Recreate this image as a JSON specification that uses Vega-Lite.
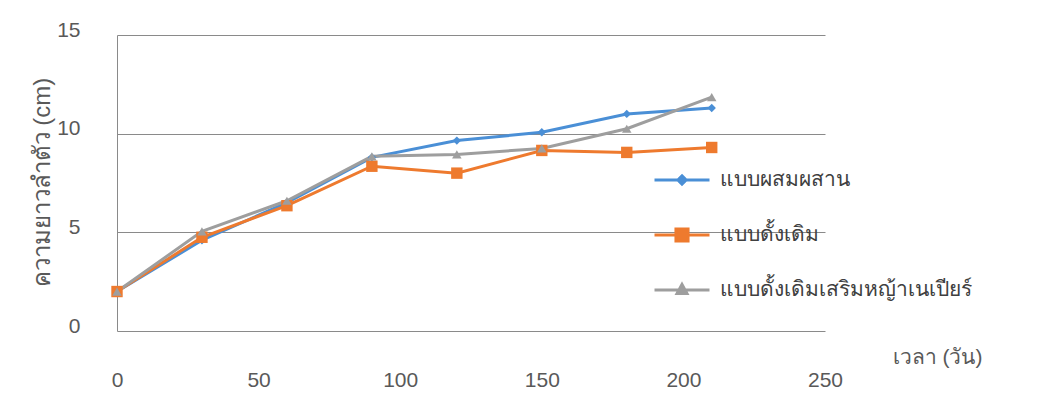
{
  "$schema": "https://vega.github.io/schema/vega-lite/v6.json",
  "width": 708,
  "height": 296,
  "autosize": {"type": "none"},
  "padding": {"left": 117, "top": 35, "right": 218, "bottom": 74},
  "background": "white",
  "config": {
    "view": {"stroke": null},
    "font": "Liberation Sans",
    "axis": {"labelColor": "#595959", "titleColor": "#595959", "labelFontSize": 21, "titleFontSize": 21, "titleFontWeight": "normal", "labelFont": "Liberation Sans", "titleFont": "Liberation Sans"}
  },
  "data": {
    "values": [
      {"day": 0, "len": 2.0, "series": "แบบผสมผสาน"},
      {"day": 30, "len": 4.6, "series": "แบบผสมผสาน"},
      {"day": 60, "len": 6.5, "series": "แบบผสมผสาน"},
      {"day": 90, "len": 8.8, "series": "แบบผสมผสาน"},
      {"day": 120, "len": 9.65, "series": "แบบผสมผสาน"},
      {"day": 150, "len": 10.07, "series": "แบบผสมผสาน"},
      {"day": 180, "len": 11.0, "series": "แบบผสมผสาน"},
      {"day": 210, "len": 11.3, "series": "แบบผสมผสาน"},
      {"day": 0, "len": 2.0, "series": "แบบดั้งเดิม"},
      {"day": 30, "len": 4.75, "series": "แบบดั้งเดิม"},
      {"day": 60, "len": 6.35, "series": "แบบดั้งเดิม"},
      {"day": 90, "len": 8.35, "series": "แบบดั้งเดิม"},
      {"day": 120, "len": 8.0, "series": "แบบดั้งเดิม"},
      {"day": 150, "len": 9.15, "series": "แบบดั้งเดิม"},
      {"day": 180, "len": 9.05, "series": "แบบดั้งเดิม"},
      {"day": 210, "len": 9.3, "series": "แบบดั้งเดิม"},
      {"day": 0, "len": 2.0, "series": "แบบดั้งเดิมเสริมหญ้าเนเปียร์"},
      {"day": 30, "len": 5.05, "series": "แบบดั้งเดิมเสริมหญ้าเนเปียร์"},
      {"day": 60, "len": 6.6, "series": "แบบดั้งเดิมเสริมหญ้าเนเปียร์"},
      {"day": 90, "len": 8.85, "series": "แบบดั้งเดิมเสริมหญ้าเนเปียร์"},
      {"day": 120, "len": 8.95, "series": "แบบดั้งเดิมเสริมหญ้าเนเปียร์"},
      {"day": 150, "len": 9.25, "series": "แบบดั้งเดิมเสริมหญ้าเนเปียร์"},
      {"day": 180, "len": 10.25, "series": "แบบดั้งเดิมเสริมหญ้าเนเปียร์"},
      {"day": 210, "len": 11.85, "series": "แบบดั้งเดิมเสริมหญ้าเนเปียร์"}
    ]
  },
  "encoding": {
    "x": {
      "field": "day", "type": "quantitative",
      "scale": {"domain": [0, 250], "nice": false},
      "axis": {
        "values": [0, 50, 100, 150, 200, 250],
        "grid": false, "domain": false, "ticks": false,
        "labelPadding": 38, "labelBaseline": "top", "labelFlush": false,
        "title": "เวลา (วัน)",
        "titleX": 820, "titleY": 26, "titleAlign": "center", "titleBaseline": "middle", "titleAnchor": null
      }
    },
    "y": {
      "field": "len", "type": "quantitative",
      "scale": {"domain": [0, 15], "nice": false},
      "axis": {
        "values": [0, 5, 10, 15],
        "grid": true, "gridColor": "#8a8a8a", "gridWidth": 1,
        "domain": true, "domainColor": "#8a8a8a", "ticks": false,
        "labelPadding": 37, "labelOffset": -5,
        "title": "ความยาวลำตัว (cm)", "titleFontSize": 24,
        "titleAngle": -90, "titleX": -75, "titleY": 147, "titleAlign": "center", "titleBaseline": "middle", "titleAnchor": null
      }
    },
    "color": {
      "field": "series", "type": "nominal",
      "scale": {
        "domain": ["แบบผสมผสาน", "แบบดั้งเดิม", "แบบดั้งเดิมเสริมหญ้าเนเปียร์"],
        "range": ["#4a8fd6", "#ee7a2e", "#9e9e9e"]
      }
    }
  },
  "layer": [
    {
      "mark": {"type": "line", "strokeWidth": 3},
      "encoding": {
        "color": {
          "field": "series", "type": "nominal",
          "legend": {
            "orient": "none", "legendX": 536, "legendY": 117.5,
            "title": null, "padding": 0, "rowPadding": 0, "clipHeight": 55,
            "symbolSize": 3025, "symbolStrokeWidth": 3,
            "labelFontSize": 21, "labelColor": "#404040", "labelOffset": 9, "labelLimit": 400,
            "encode": {
              "symbols": {
                "update": {
                  "shape": {"signal": "datum.value === 'แบบผสมผสาน' ? 'M-1,0H1M0,-0.15L0.15,0L0,0.15L-0.15,0Z' : datum.value === 'แบบดั้งเดิม' ? 'M-1,0H1M-0.22,-0.22H0.22V0.22H-0.22Z' : 'M-1,0H1M0,-0.2L0.18,0.13H-0.18Z'"},
                  "fill": {"scale": "color", "field": "value"},
                  "stroke": {"scale": "color", "field": "value"},
                  "strokeWidth": {"value": 3}
                }
              }
            }
          }
        }
      }
    },
    {
      "transform": [{"filter": "datum.series === 'แบบผสมผสาน'"}],
      "mark": {"type": "point", "filled": true, "opacity": 1, "shape": "diamond", "size": 70}
    },
    {
      "transform": [{"filter": "datum.series === 'แบบดั้งเดิม'"}],
      "mark": {"type": "point", "filled": true, "opacity": 1, "shape": "square", "size": 130}
    },
    {
      "transform": [{"filter": "datum.series === 'แบบดั้งเดิมเสริมหญ้าเนเปียร์'"}],
      "mark": {"type": "point", "filled": true, "opacity": 1, "shape": "triangle-up", "size": 90}
    }
  ]
}
